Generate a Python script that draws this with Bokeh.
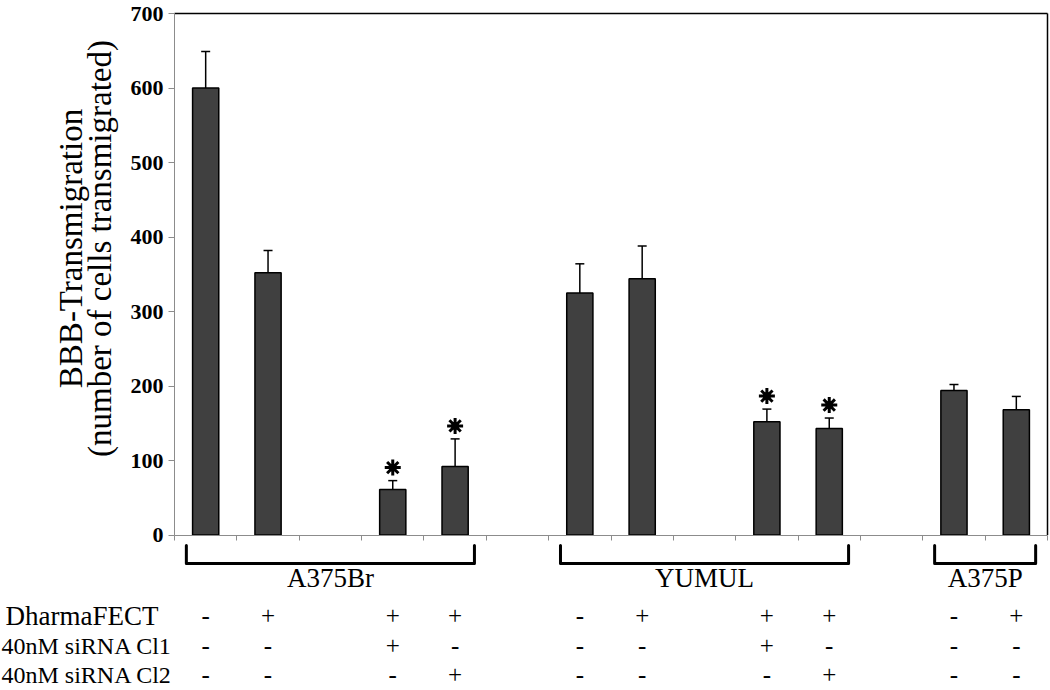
import math
from bokeh.plotting import figure
from bokeh.models import Range1d, FixedTicker, LinearAxis, ColumnDataSource
from bokeh.core.properties import value
from bokeh.embed import file_html
from bokeh.resources import INLINE

# ---------------- data ----------------
groups = ["A375Br", "YUMUL", "A375P"]
group_slots = [[0, 1, 3, 4], [6, 7, 9, 10], [12, 13]]
bar_slot = [0, 1, 3, 4, 6, 7, 9, 10, 12, 13]
means = [600, 352, 61, 92, 325, 344, 152, 143, 194, 168]
err_up = [49, 30, 12, 37, 39, 44, 17, 14, 8, 18]
significant = [False, False, True, True, False, False, True, True, False, False]
row_names = ["DharmaFECT", "40nM siRNA Cl1", "40nM siRNA Cl2"]
dharma = ["-", "+", "+", "+", "-", "+", "+", "+", "-", "+"]
cl1 = ["-", "-", "+", "-", "-", "-", "+", "-", "-", "-"]
cl2 = ["-", "-", "-", "+", "-", "-", "-", "+", "-", "-"]
y_ticks = [0, 100, 200, 300, 400, 500, 600, 700]
y_max = 700
y_title = ["BBB-Transmigration", "(number of cells transmigrated)"]
n_slots = 14

# ---------------- layout (pixels inside the canvas) ----------------
FONT = "Liberation Serif"
W, H = 1050, 690
FL, FR = 174, 1047        # where slot 0 and slot 14 sit
FT, FB = 13, 534.5        # where y_max and 0 sit
unit_x = (FR - FL) / n_slots
ppu_y = (FB - FT) / y_max


def fx(px):
    return (px - FL) / unit_x


def fy(py):
    return (FB - py) / ppu_y


p = figure(width=W, height=H, x_range=Range1d(fx(0), fx(W)), y_range=Range1d(fy(H), fy(0)),
           x_axis_type=None, y_axis_type=None, output_backend="svg", toolbar_location=None,
           min_border=0)
p.grid.visible = False
p.outline_line_color = None
p.background_fill_color = "white"
p.border_fill_color = "white"

yaxis = LinearAxis(fixed_location=0, bounds=(0, y_max), ticker=FixedTicker(ticks=y_ticks))
yaxis.axis_line_color = "#8c8c8c"
yaxis.major_tick_line_color = "#8c8c8c"
yaxis.major_tick_out = 6
yaxis.major_tick_in = 0
yaxis.minor_tick_line_color = None
yaxis.major_label_standoff = 5
yaxis.major_label_text_font = FONT
yaxis.major_label_text_font_style = "bold"
yaxis.major_label_text_font_size = "22px"
yaxis.major_label_text_color = "black"
p.add_layout(yaxis, "left")

xaxis = LinearAxis(fixed_location=0, bounds=(0, n_slots), ticker=FixedTicker(ticks=list(range(n_slots + 1))))
xaxis.axis_line_color = "#8c8c8c"
xaxis.major_tick_line_color = "#8c8c8c"
xaxis.major_tick_out = 5
xaxis.major_tick_in = 0
xaxis.minor_tick_line_color = None
xaxis.major_label_text_color = None
p.add_layout(xaxis, "below")

# top and right frame borders
p.segment(x0=[0, n_slots], y0=[y_max, 0], x1=[n_slots, n_slots], y1=[y_max, y_max],
          line_color="black", line_width=1.5)

xs = [s + 0.5 for s in bar_slot]
tops_err = [m + e for m, e in zip(means, err_up)]
cap = 4.5 / unit_x
src = ColumnDataSource(dict(x=xs, top=means, err=tops_err,
                            x0=[x - cap for x in xs], x1=[x + cap for x in xs]))
p.segment(x0="x", y0="top", x1="x", y1="err", line_color="black", line_width=1.5, source=src)
p.segment(x0="x0", y0="err", x1="x1", y1="err", line_color="black", line_width=1.5, source=src)
p.vbar(x="x", top="top", bottom=0, width=0.42, fill_color="#404040",
       line_color="black", line_width=1.5, source=src)

off = 13 / ppu_y
sx = [x for x, s in zip(xs, significant) if s]
sy = [e + off for e, s in zip(tops_err, significant) if s]
p.scatter(sx, sy, marker="asterisk", size=16, line_width=3, line_color="black")
p.scatter(sx, sy, marker="circle", size=7, fill_color="black", line_color="black")

# y title (two lines, rotated)
p.text(x=[fx(70), fx(99)], y=[fy(248)] * 2, text=y_title, angle=math.pi / 2,
       text_align="center", text_baseline="middle",
       text_font=value(FONT), text_font_size="33px", text_color="black")

# ---------------- brackets and table ----------------
br_top, br_bot = fy(545), fy(563)
bxs, bys, gx = [], [], []
for sl in group_slots:
    c0 = sl[0] + 0.5 - 0.31
    c1 = sl[-1] + 0.5 + 0.31
    bxs.append([c0, c0, c1, c1])
    bys.append([br_top, br_bot, br_bot, br_top])
    gx.append((c0 + c1) / 2)
p.multi_line(bxs, bys, line_color="black", line_width=3, line_join="round", line_cap="round")
p.text(x=gx, y=[fy(577)] * len(gx), text=groups, text_align="center", text_baseline="middle",
       text_font=value(FONT), text_font_size="27px", text_color="black")

row_y = [fy(615), fy(645), fy(674)]
row_x = [fx(5), fx(1), fx(1)]
row_size = ["27px", "24px", "24px"]
for rx, ry, name, sz in zip(row_x, row_y, row_names, row_size):
    p.text(x=[rx], y=[ry], text=[name], text_align="left", text_baseline="middle",
           text_font=value(FONT), text_font_size=sz, text_color="black")
for ry, marks in zip(row_y, [dharma, cl1, cl2]):
    p.text(x=xs, y=[ry] * len(xs), text=marks, text_align="center", text_baseline="middle",
           text_font=value(FONT), text_font_size="25px", text_color="black")

open("out.html", "w").write(file_html(p, INLINE))
